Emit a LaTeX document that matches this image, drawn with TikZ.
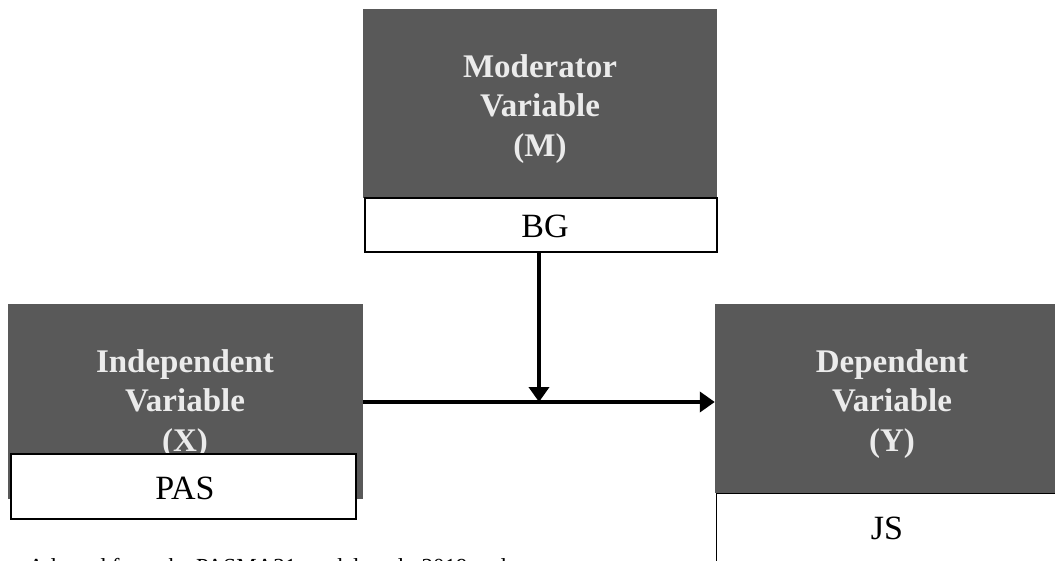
\documentclass[tikz,border=0pt]{standalone}
\usepackage{fontspec}
\setmainfont{Liberation Serif}
\usetikzlibrary{arrows.meta}
\definecolor{darkbox}{HTML}{595959}
\definecolor{lighttext}{HTML}{EBEBEB}
\tikzset{
  varbox/.style={fill=darkbox, draw=none, minimum width=354pt, inner sep=0pt},
  vartext/.style={text=lighttext, align=center, font=\fontsize{33}{39.5}\selectfont\bfseries, inner sep=0pt},
  labbox/.style={fill=white, draw=black, line width=1.3pt, inner sep=0pt},
  labtext/.style={font=\fontsize{34}{40}\selectfont, inner sep=0pt},
  arr/.style={line width=4pt, -{Triangle[length=15pt,width=20pt]}}
}
\begin{document}
\begin{tikzpicture}[x=1pt,y=-1pt]
\useasboundingbox (0,0) rectangle (1055,561);
\clip (0,0) rectangle (1055,561);
% Moderator
\node[varbox, minimum height=189pt] (mod) at (540,103.5) {};
\node[vartext] (modt) at (540,109) {Moderator\\Variable\\(M)};
\node[labbox, minimum width=352pt, minimum height=54pt] (bg) at (541,225) {};
\node[labtext] (bgt) at (545,226) {BG};
% Independent
\node[varbox, minimum width=355pt, minimum height=195pt] (iv) at (185.5,401.5) {};
\node[vartext] (ivt) at (185,404) {Independent\\Variable\\(X)};
\node[labbox, minimum width=345pt, minimum height=65pt] (pas) at (183.5,486.5) {};
\node[labtext] (past) at (185,488) {PAS};
% Dependent
\node[varbox, minimum height=189pt] (dv) at (892,398.5) {};
\node[vartext] (dvt) at (892,404) {Dependent\\Variable\\(Y)};
\node[labbox, minimum width=354pt, minimum height=80pt, anchor=north west] (js) at (715.5,493) {};
\node[labtext] (jst) at (887,528) {JS};
% caption (cut off at the bottom, as in the reference)
\node[font=\fontsize{23}{27}\selectfont, anchor=north west, inner sep=0pt] (cap) at (28,558.5) {Adapted from the PASMA31 model et al., 2019 and};
% connectors
\coordinate (j) at (539,402);
\draw[arr] (bg.south -| j) -- (j);
\draw[arr] (iv.east |- j) -- (dv.west |- j);
\end{tikzpicture}
\end{document}
